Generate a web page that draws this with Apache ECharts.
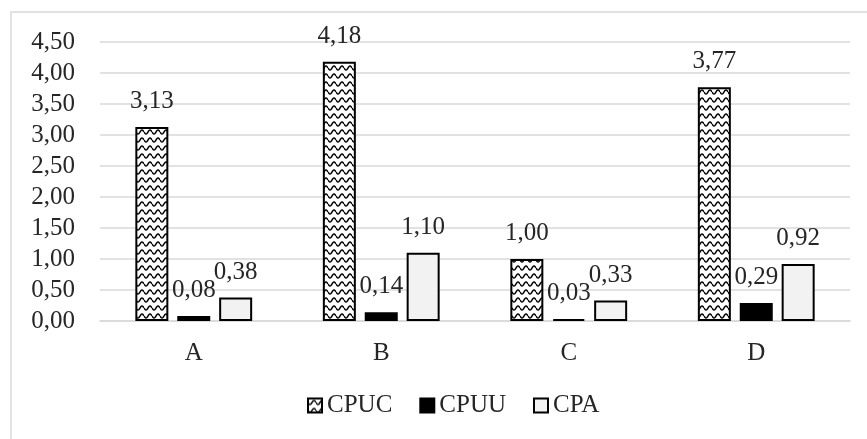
<!DOCTYPE html>
<html style="height: 100%">
<head>
  <meta charset="utf-8" />
  <title>CPUC / CPUU / CPA</title>
  <script src="https://cdn.jsdelivr.net/npm/echarts@6/dist/echarts.min.js"></script>
</head>
<body style="height: 100%; margin: 0; background: #fff">
  <div id="chart" style="width: 867px; height: 439px"></div>
  <script>
    const categories = ['A', 'B', 'C', 'D'];
    const cpuc = [3.13, 4.18, 1.00, 3.77];
    const cpuu = [0.08, 0.14, 0.03, 0.29];
    const cpa = [0.38, 1.10, 0.33, 0.92];

    const font = "'Liberation Serif', 'Times New Roman', serif";
    const textColor = '#262626';
    const fmt = v => (typeof v === 'number' ? v : v.value).toFixed(2).replace('.', ',');

    // wavy fill for CPUC
    function wavePattern() {
      const c = document.createElement('canvas');
      c.width = 8; c.height = 8;
      const ctx = c.getContext('2d');
      ctx.fillStyle = '#fff';
      ctx.fillRect(0, 0, 8, 8);
      ctx.strokeStyle = '#000';
      ctx.lineWidth = 1.4;
      ctx.beginPath();
      for (let x = 0; x <= 8; x += 0.5) {
        const y = 4 + 2 * Math.sin((x / 8) * Math.PI * 2);
        if (x === 0) ctx.moveTo(x, y); else ctx.lineTo(x, y);
      }
      ctx.stroke();
      return c;
    }

    const label = {
      show: true,
      position: 'top',
      distance: 13,
      fontFamily: font,
      fontSize: 25,
      color: textColor,
      formatter: p => fmt(p.value)
    };

    var chart = echarts.init(document.getElementById('chart'));
    chart.setOption({
      backgroundColor: '#fff',
      animation: false,
      graphic: [{
        type: 'rect',
        shape: { x: 11, y: 12, width: 900, height: 500 },
        style: { fill: 'none', stroke: '#d9d9d9', lineWidth: 1.5 },
        silent: true
      }],
      grid: { left: 100, right: 17, top: 42, bottom: 118 },
      legend: {
        bottom: 16,
        left: 302,
        icon: 'rect',
        itemWidth: 14,
        itemHeight: 14,
        itemGap: 27,
        textStyle: { fontFamily: font, fontSize: 25, color: textColor },
        data: ['CPUC', 'CPUU', 'CPA']
      },
      xAxis: {
        type: 'category',
        data: categories,
        axisLine: { lineStyle: { color: '#d9d9d9', width: 1.5 } },
        axisTick: { show: false },
        axisLabel: { fontFamily: font, fontSize: 25, color: textColor, margin: 20 }
      },
      yAxis: {
        type: 'value',
        min: 0,
        max: 4.5,
        interval: 0.5,
        axisLine: { show: false },
        axisTick: { show: false },
        splitLine: { lineStyle: { color: '#d9d9d9', width: 1.5 } },
        axisLabel: { fontFamily: font, fontSize: 25, color: textColor, margin: 25, formatter: v => fmt(v) }
      },
      series: [
        {
          name: 'CPUC', type: 'bar', data: cpuc, barWidth: 33, barGap: '27%',
          itemStyle: { color: { image: wavePattern(), repeat: 'repeat' }, borderColor: '#000', borderWidth: 2 },
          label: label
        },
        {
          name: 'CPUU', type: 'bar', data: cpuu, barWidth: 33, barGap: '27%',
          itemStyle: { color: '#000', borderColor: '#000', borderWidth: 2 },
          label: label
        },
        {
          name: 'CPA', type: 'bar', data: cpa, barWidth: 33, barGap: '27%',
          itemStyle: { color: '#f2f2f2', borderColor: '#000', borderWidth: 2 },
          label: label
        }
      ]
    });
  </script>
</body>
</html>
